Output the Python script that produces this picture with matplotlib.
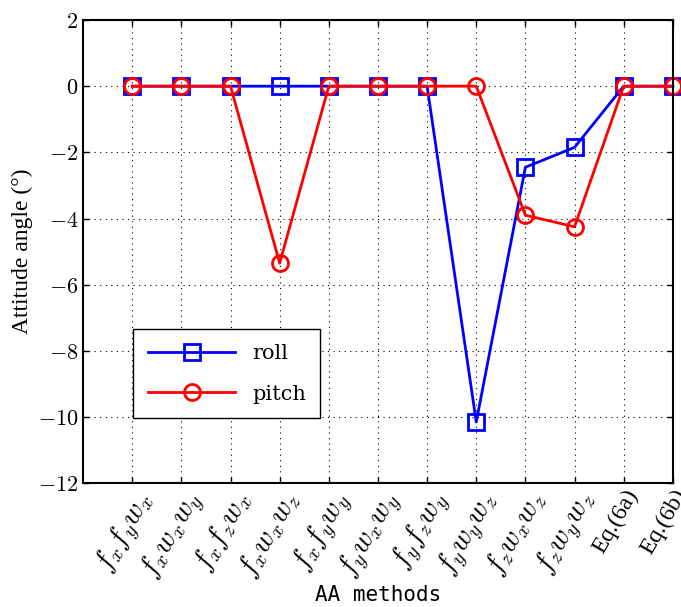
import numpy as np
import matplotlib
matplotlib.use("Agg")
import matplotlib.pyplot as plt

plt.rcParams['mathtext.fontset'] = 'cm'

methods = [r'$f_xf_yw_x$', r'$f_xw_xw_y$', r'$f_xf_zw_x$', r'$f_xw_xw_z$',
           r'$f_xf_yw_y$', r'$f_yw_xw_y$', r'$f_yf_zw_y$', r'$f_yw_yw_z$',
           r'$f_zw_xw_z$', r'$f_zw_yw_z$', 'Eq.(6a)', 'Eq.(6b)']
roll = [0, 0, 0, 0, 0, 0, 0, -10.15, -2.45, -1.85, 0, 0]
pitch = [0, 0, 0, -5.35, 0, 0, 0, 0, -3.9, -4.25, 0, 0]
yticks = [-12, -10, -8, -6, -4, -2, 0, 2]

x = np.arange(1, len(methods) + 1)

fig = plt.figure(figsize=(6.81, 6.07), dpi=100)
ax = fig.add_axes([0.122, 0.204, 0.866, 0.763])

ax.plot(x, roll, color='blue', lw=2, marker='s', ms=11.5, mfc='none', mew=2,
        label='roll', clip_on=False)
ax.plot(x, pitch, color='red', lw=2, marker='o', ms=11.5, mfc='none', mew=2,
        label='pitch', clip_on=False)

ax.set_xlim(0, 12)
ax.set_ylim(-12, 2)
ax.set_xticks(x)
ax.set_xticklabels(methods, rotation=60, ha='right', rotation_mode='anchor',
                   fontsize=21, family='Liberation Serif')
# the plain-text equation labels are smaller than the math ones
for t in ax.get_xticklabels():
    if t.get_text().startswith('Eq'):
        t.set_fontsize(17)
ax.set_yticks(yticks)
ax.set_yticklabels([r'$%d$' % v for v in yticks], fontsize=16)
ax.tick_params(direction='in', length=4, width=1, top=True, right=True)
ax.tick_params(axis='x', pad=2)
ax.grid(True, color='black', linestyle=(0, (1, 4)), linewidth=0.8)
for s in ax.spines.values():
    s.set_linewidth(1.5)

ax.set_ylabel('Attitude angle (°)', fontsize=17, family='Liberation Serif', labelpad=3)
ax.set_xlabel('AA methods', fontsize=15, family='DejaVu Sans Mono', labelpad=0)

leg = ax.legend(loc='lower left', bbox_to_anchor=(0.085, 0.14), borderaxespad=0,
                handlelength=4.2, borderpad=0.7, labelspacing=1.05, handletextpad=0.8,
                fancybox=False, edgecolor='black', framealpha=1,
                prop={'family': 'DejaVu Serif', 'size': 15})
leg.get_frame().set_linewidth(1)

fig.savefig('out.png', dpi=100)
